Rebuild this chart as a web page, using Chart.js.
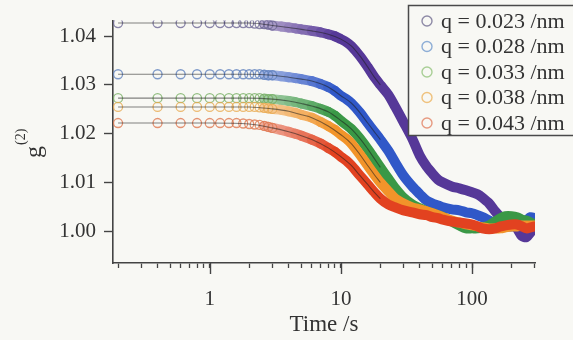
<!DOCTYPE html>
<html>
<head>
<meta charset="utf-8">
<script src="https://cdn.jsdelivr.net/npm/chart.js@4.4.1/dist/chart.umd.min.js"></script>
<style>
  html, body { margin: 0; padding: 0; background: #f8f8f4; }
  #wrap { width: 573px; height: 340px; position: relative; }
</style>
</head>
<body>
<div id="wrap"><canvas id="c" width="573" height="340"></canvas></div>
<script>
// Correlation time axis (s)
const times = [0.2, 0.4, 0.6, 0.8, 1.0, 1.2, 1.4, 1.6, 1.8, 2.0, 2.2, 2.4, 2.6, 2.8, 3.0,
  3.5, 4, 4.5, 5, 6, 7, 8, 9, 10, 11, 12, 14, 16, 18, 20, 23, 26, 30, 35, 40,
  45, 50, 55, 60, 70, 80, 90, 100, 110, 120, 135, 150, 165, 180, 200, 220, 240, 260, 280, 300];

// g(2) for each scattering vector
const g2_q023 = [1.0427, 1.0427, 1.0427, 1.0427, 1.0427, 1.0427, 1.0427, 1.0427, 1.0427, 1.0427,
  1.0426, 1.0425, 1.0425, 1.0424, 1.0422,
  1.0420, 1.0418, 1.0416, 1.0414, 1.0411, 1.0408, 1.0404, 1.0400, 1.0394, 1.0388,
  1.0380, 1.0359, 1.0337, 1.0316, 1.0300, 1.0280, 1.0255, 1.0224, 1.0190, 1.0155,
  1.0133, 1.0118, 1.0106, 1.0100, 1.0092, 1.0088, 1.0084, 1.0080, 1.0076, 1.0069,
  1.0057, 1.0041, 1.0029, 1.0022, 1.0016, 1.0006, 0.9990, 0.9988, 0.9998, 1.0010];
const g2_q028 = [1.0322, 1.0322, 1.0322, 1.0322, 1.0322, 1.0322, 1.0322, 1.0322, 1.0322, 1.0322,
  1.0322, 1.0322, 1.0321, 1.0320, 1.0320,
  1.0318, 1.0316, 1.0314, 1.0312, 1.0308, 1.0302, 1.0296, 1.0288, 1.0278, 1.0271,
  1.0263, 1.0243, 1.0222, 1.0204, 1.0188, 1.0165, 1.0141, 1.0114, 1.0092, 1.0076,
  1.0063, 1.0057, 1.0053, 1.0049, 1.0045, 1.0043, 1.0039, 1.0037, 1.0033, 1.0029,
  1.0022, 1.0016, 1.0012, 1.0010, 1.0010, 1.0012, 1.0016, 1.0022, 1.0029, 1.0027];
const g2_q033 = [1.0273, 1.0273, 1.0273, 1.0273, 1.0273, 1.0273, 1.0273, 1.0273, 1.0273, 1.0273,
  1.0273, 1.0273, 1.0272, 1.0271, 1.0271,
  1.0269, 1.0267, 1.0265, 1.0262, 1.0257, 1.0251, 1.0245, 1.0237, 1.0227, 1.0218,
  1.0210, 1.0190, 1.0169, 1.0149, 1.0131, 1.0108, 1.0088, 1.0069, 1.0055, 1.0047,
  1.0041, 1.0037, 1.0033, 1.0029, 1.0020, 1.0012, 1.0006, 1.0006, 1.0006, 1.0008,
  1.0012, 1.0020, 1.0027, 1.0031, 1.0031, 1.0029, 1.0024, 1.0022, 1.0018, 1.0014];
const g2_q038 = [1.0255, 1.0255, 1.0255, 1.0255, 1.0255, 1.0255, 1.0255, 1.0255, 1.0255, 1.0255,
  1.0255, 1.0254, 1.0253, 1.0252, 1.0251,
  1.0249, 1.0246, 1.0243, 1.0239, 1.0233, 1.0224, 1.0216, 1.0208, 1.0198, 1.0190,
  1.0180, 1.0157, 1.0135, 1.0116, 1.0100, 1.0082, 1.0067, 1.0057, 1.0049, 1.0045,
  1.0041, 1.0037, 1.0033, 1.0029, 1.0022, 1.0018, 1.0014, 1.0012, 1.0010, 1.0008,
  1.0006, 1.0006, 1.0006, 1.0008, 1.0010, 1.0010, 1.0012, 1.0012, 1.0012, 1.0012];
const g2_q043 = [1.0222, 1.0222, 1.0222, 1.0222, 1.0222, 1.0222, 1.0222, 1.0222, 1.0221, 1.0220,
  1.0219, 1.0218, 1.0216, 1.0214, 1.0212,
  1.0208, 1.0204, 1.0200, 1.0196, 1.0188, 1.0180, 1.0171, 1.0163, 1.0153, 1.0145,
  1.0135, 1.0114, 1.0096, 1.0080, 1.0067, 1.0055, 1.0049, 1.0043, 1.0039, 1.0035,
  1.0033, 1.0029, 1.0027, 1.0024, 1.0020, 1.0018, 1.0016, 1.0014, 1.0010, 1.0006,
  1.0004, 1.0006, 1.0010, 1.0012, 1.0014, 1.0014, 1.0010, 1.0006, 1.0008, 1.0010];

// Fitted decay curves (early part)
const fitTimes = [0.2, 1, 2, 3, 4, 5, 6, 8, 10, 12, 14, 16, 18, 20];
const fit_q023 = [1.0427, 1.0427, 1.0427, 1.0422, 1.0418, 1.0414, 1.0411, 1.0404, 1.0394, 1.0380, 1.0359, 1.0337, 1.0316, 1.0300];
const fit_q028 = [1.0322, 1.0322, 1.0322, 1.0320, 1.0316, 1.0312, 1.0308, 1.0296, 1.0278, 1.0263, 1.0243, 1.0222, 1.0204, 1.0188];
const fit_q033 = [1.0273, 1.0273, 1.0273, 1.0271, 1.0267, 1.0262, 1.0257, 1.0245, 1.0227, 1.0210, 1.0190, 1.0169, 1.0149, 1.0131];
const fit_q038 = [1.0255, 1.0255, 1.0255, 1.0251, 1.0246, 1.0239, 1.0233, 1.0216, 1.0198, 1.0180, 1.0157, 1.0135, 1.0116, 1.0100];
const fit_q043 = [1.0222, 1.0222, 1.0220, 1.0212, 1.0204, 1.0196, 1.0188, 1.0171, 1.0153, 1.0135, 1.0114, 1.0096, 1.0080, 1.0067];

const seriesLabels = ['q = 0.023 /nm', 'q = 0.028 /nm', 'q = 0.033 /nm', 'q = 0.038 /nm', 'q = 0.043 /nm'];

// Axis ticks
const yTickValues = [1.00, 1.01, 1.02, 1.03, 1.04];
const xTickValues = [0.2, 0.3, 0.4, 0.5, 0.6, 0.7, 0.8, 0.9, 1, 2, 3, 4, 5, 6, 7, 8, 9,
  10, 20, 30, 40, 50, 60, 70, 80, 90, 100, 200, 300];
const xLabelValues = [1, 10, 100];

// Styling
const seriesValues = [g2_q023, g2_q028, g2_q033, g2_q038, g2_q043];
const fitValues = [fit_q023, fit_q028, fit_q033, fit_q038, fit_q043];
const bandRGB = [[86, 56, 152], [48, 88, 200], [58, 152, 70], [242, 148, 42], [226, 66, 32]];
const paperRGB = [248, 248, 244];
const markColors = ['rgba(110,104,150,0.8)', 'rgba(96,130,190,0.8)', 'rgba(120,175,100,0.8)', 'rgba(232,170,80,0.8)', 'rgba(222,120,80,0.8)'];
const legendMarkColors = ['#8e8aa6', '#8eaed6', '#a9cf96', '#efc27e', '#e79a80'];
const FONT = '"Liberation Serif", "Times New Roman", serif';
const INK = '#333';
const BAND_START = 2.5;  // markers begin to merge into a band here
const BAND_SOLID = 9;    // band fully saturated from here
const MARKER_LIMIT = 3;  // individual markers drawn up to this time

// opaque colour between paper and the series colour; k = 0..1
function shade(rgb, k) {
  const c = rgb.map((v, j) => Math.round(paperRGB[j] + (v - paperRGB[j]) * k));
  return `rgb(${c[0]},${c[1]},${c[2]})`;
}
function bandStrength(t) {
  const a = Math.log(t / BAND_START) / Math.log(BAND_SOLID / BAND_START);
  return 0.4 + 0.6 * Math.min(1, Math.max(0, a));
}

const datasets = [];
seriesValues.forEach((vals, i) => {
  datasets.push({
    label: seriesLabels[i],
    data: times.map((t, k) => ({ x: t, y: vals[k] })),
    order: 10 - i,
    showLine: true,
    borderColor: shade(bandRGB[i], 1),
    borderWidth: 10,
    borderCapStyle: 'round',
    borderJoinStyle: 'round',
    tension: 0.3,
    segment: {
      borderColor: ctx => {
        const t0 = times[ctx.p0DataIndex];
        if (t0 < BAND_START) return 'rgba(0,0,0,0)';
        return shade(bandRGB[i], bandStrength(t0));
      }
    },
    pointRadius: ctx => (times[ctx.dataIndex] <= MARKER_LIMIT ? 4.5 : 0),
    pointBorderWidth: 1.3,
    pointBorderColor: markColors[i],
    pointBackgroundColor: 'rgba(0,0,0,0)'
  });
});
fitValues.forEach((vals) => {
  datasets.push({
    label: 'fit',
    data: fitTimes.map((t, k) => ({ x: t, y: vals[k] })),
    order: 0,
    borderColor: 'rgba(30,30,30,0.55)',
    borderWidth: 1.1,
    pointRadius: 0,
    cubicInterpolationMode: 'monotone'
  });
});

const overlay = {
  id: 'overlay',
  afterDraw(chart) {
    const { ctx, scales } = chart;
    const xs = scales.x, ys = scales.y;
    ctx.save();
    // longer ticks at the decades
    ctx.strokeStyle = '#444';
    ctx.lineWidth = 1.4;
    xLabelValues.forEach(v => {
      const px = Math.round(xs.getPixelForValue(v)) + 0.5;
      ctx.beginPath();
      ctx.moveTo(px, ys.bottom);
      ctx.lineTo(px, ys.bottom + 11);
      ctx.stroke();
    });

    // legend box
    const lx = 408, ly = 5, lw = 200, lh = 130;
    ctx.fillStyle = '#f8f8f4';
    ctx.fillRect(lx, ly, lw, lh);
    ctx.strokeStyle = '#4a4a4a';
    ctx.lineWidth = 1.5;
    ctx.strokeRect(lx + 0.5, ly + 0.5, lw, lh);
    ctx.font = '22px ' + FONT;
    ctx.textBaseline = 'middle';
    ctx.textAlign = 'left';
    seriesLabels.forEach((lab, k) => {
      const ry = ly + 16 + k * 25.5;
      ctx.beginPath();
      ctx.strokeStyle = legendMarkColors[k];
      ctx.lineWidth = 1.4;
      ctx.arc(427, ry, 5, 0, Math.PI * 2);
      ctx.stroke();
      ctx.fillStyle = INK;
      ctx.fillText(lab, 441, ry + 1);
    });

    // y axis title: g(2)
    ctx.fillStyle = INK;
    ctx.translate(41, 158);
    ctx.rotate(-Math.PI / 2);
    ctx.textBaseline = 'alphabetic';
    ctx.font = '24px ' + FONT;
    ctx.fillText('g', 0, 0);
    const gw = ctx.measureText('g').width;
    ctx.font = '14px ' + FONT;
    ctx.fillText('(2)', gw + 1, -16);
    ctx.restore();
  }
};

new Chart(document.getElementById('c'), {
  type: 'line',
  data: { datasets },
  options: {
    responsive: false,
    animation: false,
    devicePixelRatio: 1,
    layout: { padding: { left: 0, right: 38, top: 20, bottom: 0 }, autoPadding: false },
    plugins: { legend: { display: false }, tooltip: { enabled: false } },
    scales: {
      x: {
        type: 'logarithmic',
        min: 0.183,
        max: 302,
        afterBuildTicks(scale) { scale.ticks = xTickValues.map(v => ({ value: v })); },
        afterFit(scale) { scale.height = 77; },
        ticks: {
          autoSkip: false,
          maxRotation: 0,
          padding: 19,
          color: INK,
          font: { family: FONT, size: 21 },
          callback(value, i, ticks) {
            const v = ticks[i].value;
            return xLabelValues.includes(v) ? String(v) : '';
          }
        },
        grid: { display: true, drawOnChartArea: false, drawTicks: true, tickLength: 5, tickColor: '#444', tickWidth: 1.3 },
        border: { display: true, color: '#444', width: 1.6 },
        title: { display: true, text: 'Time /s', color: INK, font: { family: FONT, size: 23 }, padding: { top: 1, bottom: 1 } }
      },
      y: {
        type: 'linear',
        min: 0.9935,
        max: 1.0432,
        afterBuildTicks(scale) { scale.ticks = yTickValues.map(v => ({ value: v })); },
        afterFit(scale) { scale.width = 113; },
        ticks: {
          padding: 8,
          color: INK,
          font: { family: FONT, size: 21 },
          callback(value) { return Number(value).toFixed(2); }
        },
        grid: { display: true, drawOnChartArea: false, drawTicks: true, tickLength: 9, tickColor: '#444', tickWidth: 1.4 },
        border: { display: true, color: '#444', width: 1.6 }
      }
    }
  },
  plugins: [overlay]
});
</script>
</body>
</html>
